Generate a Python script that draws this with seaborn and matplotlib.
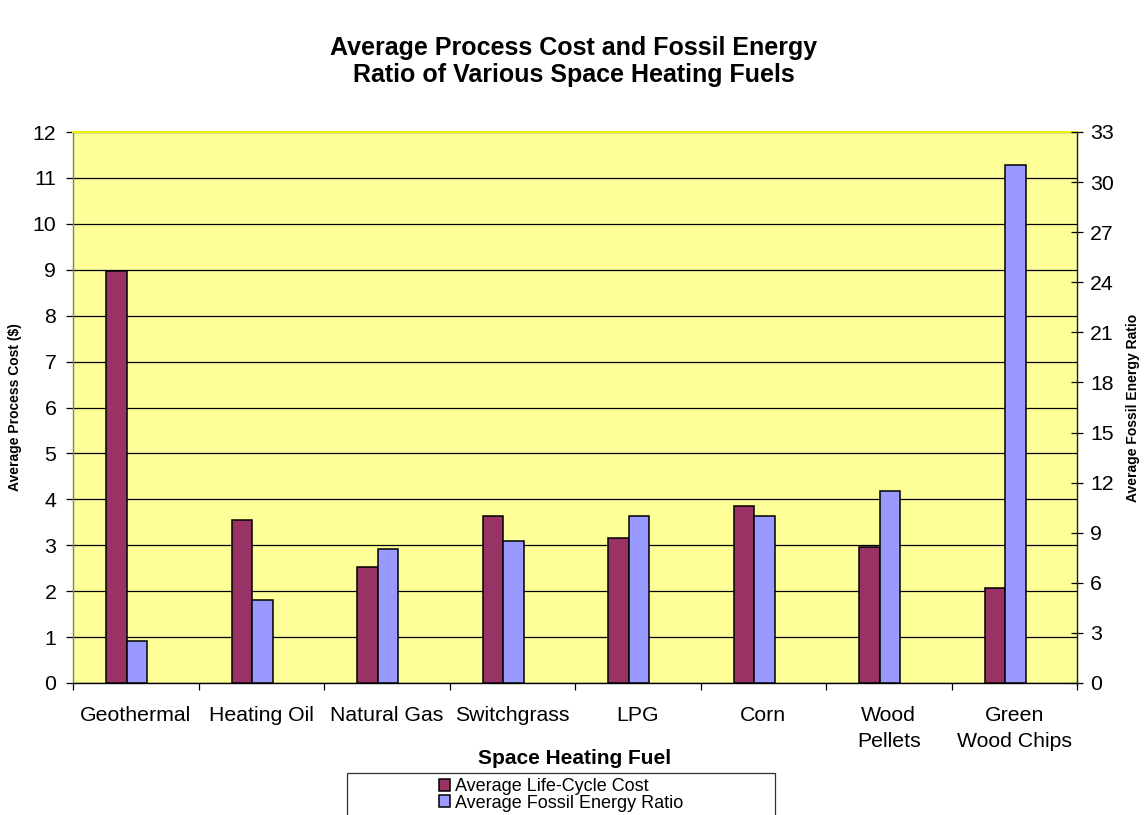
import matplotlib
matplotlib.use("Agg")
import matplotlib.pyplot as plt
from matplotlib.patches import Rectangle
import seaborn as sns
import pandas as pd

# ---- data -------------------------------------------------------------
fuels = ["Geothermal", "Heating Oil", "Natural Gas", "Switchgrass", "LPG",
         "Corn", "Wood\nPellets", "Green\nWood Chips"]
life_cycle_cost = [8.97, 3.54, 2.52, 3.64, 3.16, 3.86, 2.97, 2.06]
fossil_energy_ratio = [2.5, 5.0, 8.0, 8.5, 10.0, 10.0, 11.5, 31.0]
left_ticks = list(range(0, 13))
right_ticks = list(range(0, 34, 3))

title = "Average Process Cost and Fossil Energy\nRatio of Various Space Heating Fuels"
series_names = ["Average Life-Cycle Cost", "Average Fossil Energy Ratio"]

# ---- style ------------------------------------------------------------
sns.set_theme(style="white")
plt.rcParams["font.family"] = ["Liberation Sans", "DejaVu Sans"]
for k in ["text.color", "axes.labelcolor", "xtick.color", "ytick.color"]:
    plt.rcParams[k] = "black"

MAROON = "#993366"
BLUE = "#9999FF"
YELLOW = "#FFFF99"
BAR_W = 0.163
OFF_M = -0.152
OFF_B = 0.010

W, H = 1148, 815
fig = plt.figure(figsize=(W / 100, H / 100), dpi=100)
fig.patch.set_facecolor("white")
L, R, T, B = 73, 1077, 132, 683
ax = fig.add_axes([L / W, 1 - B / H, (R - L) / W, (B - T) / H])
ax.set_facecolor(YELLOW)

df = pd.DataFrame({"fuel": fuels, "cost": life_cycle_cost, "fer": fossil_energy_ratio})

sns.barplot(data=df, x="fuel", y="cost", ax=ax, color=MAROON, saturation=1,
            width=BAR_W, edgecolor="black", linewidth=1.1, errorbar=None, zorder=3)
ax2 = ax.twinx()
sns.barplot(data=df, x="fuel", y="fer", ax=ax2, color=BLUE, saturation=1,
            width=BAR_W, edgecolor="black", linewidth=1.1, errorbar=None, zorder=3)

for p in ax.patches:
    p.set_x(p.get_x() + OFF_M)
for p in ax2.patches:
    p.set_x(p.get_x() + OFF_B)

n = len(fuels)
ax.set_xlim(-0.5, n - 0.5)
ax2.set_xlim(-0.5, n - 0.5)
ax.set_ylim(0, 12)
ax2.set_ylim(0, 33)
ax.set_yticks(left_ticks)
ax2.set_yticks(right_ticks)

# gridlines
ax.set_axisbelow(True)
ax.yaxis.grid(True, color="black", linewidth=0.9)
ax.xaxis.grid(False)

# x ticks: marks at category boundaries, labels at centers
ax.set_xticks([i - 0.5 for i in range(n + 1)])
ax.set_xticklabels([])
ax.set_xticks(list(range(n)), minor=True)
ax.set_xticklabels(fuels, minor=True, fontsize=15.3, linespacing=1.45, color="black")
ax.tick_params(axis="x", which="major", direction="out", length=5, width=0.9,
               color="black", bottom=True)
ax.tick_params(axis="x", which="minor", length=0, pad=16.5, bottom=True)
ax2.tick_params(axis="x", which="both", bottom=False, labelbottom=False)

ax.tick_params(axis="y", which="major", direction="out", length=5, width=0.9,
               labelsize=15.3, pad=7, left=True, color="black", labelcolor="black")
ax2.tick_params(axis="y", which="major", direction="inout", length=9, width=0.9,
                labelsize=15.3, pad=5, right=True, color="black", labelcolor="black")

# labels
ax.set_xlabel("Space Heating Fuel", fontsize=15, fontweight="bold", va="center",
              color="black")
ax.xaxis.set_label_coords(0.5, (B - 758) / (B - T))
ax.set_ylabel("Average Process Cost ($)", fontsize=10, fontweight="bold", va="center",
              color="black")
ax.yaxis.set_label_coords((15 - L) / (R - L), 0.5)
ax2.set_ylabel("Average Fossil Energy Ratio", fontsize=10, fontweight="bold",
               va="center", rotation=90, color="black")
ax2.yaxis.set_label_coords((1133 - L) / (R - L), 0.5)

# spines
for s in ["left", "right", "top", "bottom"]:
    ax.spines[s].set_visible(True)
    ax2.spines[s].set_visible(False)
ax.spines["left"].set_color("#808060")
ax.spines["left"].set_linewidth(1.0)
ax.spines["top"].set_color("#EEEE10")
ax.spines["top"].set_linewidth(1.5)
ax.spines["bottom"].set_color("black")
ax.spines["bottom"].set_linewidth(1.0)
ax.spines["right"].set_visible(False)
ax2.spines["right"].set_visible(True)
ax2.spines["right"].set_color("#202000")
ax2.spines["right"].set_linewidth(1.0)

# title
fig.text(0.5, 1 - 61.5 / H, title, ha="center", va="center", fontsize=18,
         fontweight="bold", linespacing=1.2, color="black")

# legend
leg = fig.legend([ax.patches[0], ax2.patches[0]], series_names, loc="center",
                 bbox_to_anchor=(561 / W, 1 - 795 / H), frameon=False, fontsize=13,
                 handlelength=0.6, handleheight=0.6, handletextpad=0.25,
                 labelspacing=-0.05, borderpad=0)
for t in leg.get_texts():
    t.set_color("black")
fig.add_artist(Rectangle((347 / W, -0.05), (775 - 347) / W, 0.05 + (1 - 773 / H),
                         transform=fig.transFigure, fill=False,
                         edgecolor="#303030", linewidth=0.9))

fig.savefig("out.png", dpi=100)
